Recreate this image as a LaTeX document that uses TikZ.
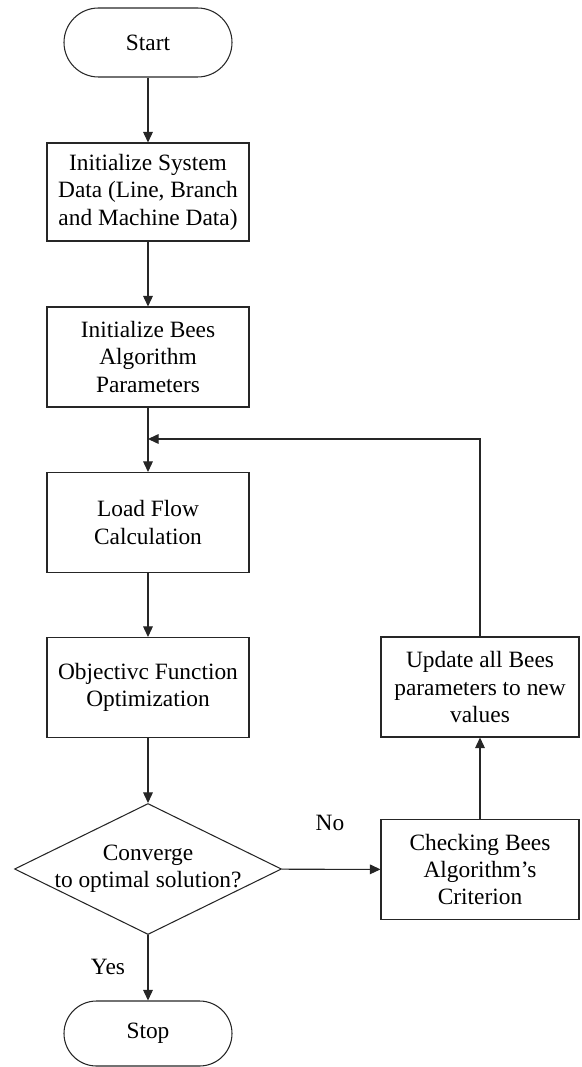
\documentclass[tikz,border=0pt]{standalone}
\usepackage{fontspec}
\setmainfont{Liberation Serif}
\usepackage{tikz}
\usetikzlibrary{shapes.geometric}
\usetikzlibrary{positioning}
\usetikzlibrary{arrows.meta}
\tikzset{every picture/.style={line width=0.6pt},
  procbox/.style={draw,minimum width=4.04cm,minimum height=2cm,align=center,inner sep=2pt},
  termbox/.style={draw,rounded corners=0.69cm,minimum width=3.36cm,minimum height=1.38cm},
  decbox/.style={diamond,draw,minimum width=5.34cm,minimum height=2.62cm,inner sep=0pt},
  flow/.style={-{Triangle[length=6pt,width=5.5pt]}}}

\begin{document}
\begin{tikzpicture}[font=\fontsize{13.3}{15.6}\selectfont, draw=black!85]
\useasboundingbox (0,0) rectangle (11.64,-21.34);

\node (start) at (2.96,-0.85) [termbox] {Start};
\node (init) at (2.96,-3.84) [procbox,minimum height=1.96cm] {Initialize System\\Data (Line, Branch\\and Machine Data)};
\node (param) at (2.96,-7.14) [procbox] {Initialize Bees\\Algorithm\\Parameters};
\node (load) at (2.96,-10.45) [procbox] {Load Flow\\Calculation};
\node (obj) at (2.96,-13.75) [procbox] {Objectivc Function\\Optimization};

\node (conv) at (2.96,-17.38) [decbox] {};
\node (convtxt) at (conv) [align=center] {Converge\\to optimal solution?};
\node (stop) at (2.96,-20.67) [termbox,rounded corners=0.65cm,minimum height=1.3cm] {Stop};

\node (check) at (9.6,-17.39) [procbox,minimum width=3.96cm] {Checking Bees\\Algorithm's\\Criterion};
\node (update) at (9.6,-13.74) [procbox,minimum width=3.96cm] {Update all Bees\\parameters to new\\values};

\coordinate (loop) at (2.96,-8.78);
\node (no) at (6.6,-16.46) {No};
\node (yes) at (2.16,-19.34) {Yes};

\draw [flow] (start) -- (init);
\draw [flow] (init) -- (param);
\draw [flow] (param) -- (load);
\draw [flow] (load) -- (obj);
\draw [flow] (obj) -- (conv);
\draw [flow] (conv) -- (stop);
\draw [flow] (conv) -- (check);
\draw [flow] (check) -- (update);
\draw [flow] (update) |- (loop);
\end{tikzpicture}
\end{document}
